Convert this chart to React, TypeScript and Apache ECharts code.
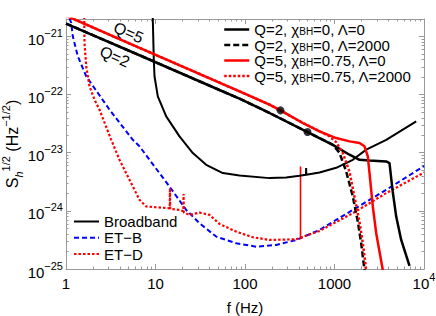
import React, { useEffect, useRef } from 'react';
import * as echarts from 'echarts';

// ---------- axes ----------
const X_MIN = 1;
const X_MAX = 10000;
const Y_MIN = 1e-25;
const Y_MAX = 2e-21;
const X_MAJOR = [1, 10, 100, 1000, 10000];
const Y_MAJOR = [1e-25, 1e-24, 1e-23, 1e-22, 1e-21];
// ECharts rounds log-axis extents to 20 decimals, so the y values are drawn in units of 1e-25
const Y_UNIT = 1e-25;

// ---------- series: [f (Hz), S_h^1/2] ----------
const q2Lambda0 = [
  [1, 1.67e-21], [6.625, 4.76e-22], [51.89, 1.2e-22], [86.81, 8.53e-23],
  [187.8, 4.83e-23], [499.1, 2.27e-23], [957.2, 1.37e-23], [1471, 9.25e-24],
  [1902, 7.57e-24], [2461, 7.36e-24], [3782, 7.08e-24], [4117, 6.64e-24],
  [4446, 2.3e-24], [4892, 7.98e-25], [5563, 3.16e-25], [6887, 1.13e-25],
];
const q2Lambda2000 = [
  [1, 1.67e-21], [6.625, 4.76e-22], [51.89, 1.2e-22], [86.81, 8.53e-23],
  [187.8, 4.83e-23], [499.1, 2.27e-23], [957.2, 1.37e-23], [1137, 1.0e-23],
  [1351, 4.76e-24], [1602, 1.77e-24], [1821, 6.54e-25], [1988, 2.77e-25],
  [2109, 1.32e-25], [2164, 9.6e-26],
];
const q5Lambda0 = [
  [1, 2.28e-21], [6.625, 6.38e-22], [86.81, 1.14e-22], [187.8, 6.73e-23],
  [249.2, 5.36e-23], [442.4, 3.25e-23], [679.8, 2.33e-23], [1045, 1.79e-23],
  [1471, 1.57e-23], [1902, 1.47e-23], [2164, 1.29e-23], [2356, 8.63e-24],
  [2461, 4.47e-24], [2679, 1.19e-24], [2924, 4.13e-25], [3465, 9.6e-26],
];
const q5Lambda2000 = [
  [1, 2.28e-21], [6.625, 6.38e-22], [86.81, 1.14e-22], [187.8, 6.73e-23],
  [249.2, 5.36e-23], [442.4, 3.25e-23], [624.5, 2.5e-23], [879, 1.92e-23],
  [1045, 1.52e-23], [1238, 9.89e-24], [1471, 4.7e-24], [1673, 1.74e-24],
  [1902, 6.45e-25], [2072, 2.81e-25], [2203, 1.32e-25], [2249, 9.6e-26],
];
const broadband = [
  [9.3, 2.2e-21], [9.33, 1.96e-21], [9.572, 4.01e-22], [9.746, 2.07e-22],
  [10.61, 9.35e-23], [13.17, 4.23e-23], [18.54, 1.91e-23], [26.12, 9.89e-24],
  [36.86, 6.21e-24], [56.49, 4.47e-24], [86.81, 4.06e-24], [187.8, 3.66e-24],
  [288.6, 3.75e-24], [406.3, 4.01e-24], [480, 4.17e-24], [482, 5.44e-24],
  [484, 4.19e-24], [679.8, 4.57e-24], [1045, 5.51e-24], [1602, 7.57e-24],
  [2261, 1.13e-23], [3782, 1.67e-23], [8182, 3.47e-23],
];
const etB = [
  [1.094, 2.04e-21], [1.143, 1.72e-21], [1.191, 1.01e-21], [1.355, 4.57e-22],
  [1.682, 2.07e-22], [2.266, 1.07e-22], [3.062, 5.51e-23], [5.578, 1.67e-23],
  [6.625, 1.29e-23], [8.57, 7.57e-24], [14.34, 2.62e-24], [22.03, 1.04e-24],
  [31.01, 6.14e-25], [47.67, 3.61e-25], [79.74, 2.77e-25], [133.4, 2.42e-25],
  [223.2, 2.59e-25], [373.4, 3.16e-25], [679.8, 4.7e-25], [1602, 1.04e-24],
  [3782, 2.3e-24], [10000, 5.9e-24],
];
const etD = [
  [1.6, 2.2e-21], [1.609, 7.78e-22], [1.682, 3.08e-22], [1.83, 1.39e-22],
  [2.082, 8.2e-23], [2.367, 5.51e-23], [3.199, 1.67e-23], [3.961, 7.57e-24],
  [5.123, 3.42e-24], [6.625, 1.55e-24], [7.873, 1.19e-24], [14.4, 1.11e-24],
  [14.5, 2.45e-24], [14.6, 1.08e-24], [18.54, 1.04e-24], [20.5, 9.9e-25],
  [20.6, 1.95e-24], [20.7, 9.4e-25], [23.98, 8.53e-25], [31.01, 9.35e-25],
  [40.12, 8.53e-25], [51.89, 5.97e-25], [79.74, 4.4e-25], [122.3, 3.52e-25],
  [187.8, 3.16e-25], [373.4, 3.25e-25], [679.8, 4.52e-25], [1602, 9.12e-25],
  [3782, 2.02e-24], [10000, 4.57e-24],
];
const redMarker = [[417, 3.25e-25], [417, 5.81e-24]];
const dots = [[249.2, 5.36e-23], [499.1, 2.27e-23]];
const qLabels = [
  { text: 'Q=5', at: [5.0, 1.17e-21] },
  { text: 'Q=2', at: [3.5, 4.5e-22] },
];

const NAME_Q2L0 = 'Q=2, χBH=0, Λ=0';
const NAME_Q2L2000 = 'Q=2, χBH=0, Λ=2000';
const NAME_Q5L0 = 'Q=5, χBH=0.75, Λ=0';
const NAME_Q5L2000 = 'Q=5, χBH=0.75, Λ=2000';
const NAME_BB = 'Broadband';
const NAME_ETB = 'ET−B';
const NAME_ETD = 'ET−D';

const FONT = '"Liberation Sans", Arial, Helvetica, sans-serif';
const FRAME = '#999';
const RED = '#ff0000';
const BLUE = '#0000ff';

const toUnits = (pts: number[][]) => pts.map((p) => [p[0], p[1] / Y_UNIT]);

function minorOf(majors: number[]): number[] {
  const out: number[] = [];
  for (const m of majors) for (let k = 2; k <= 9; k++) out.push(m * k);
  return out;
}

const labelRich = {
  b: { fontSize: 15, lineHeight: 24, color: '#000', fontFamily: FONT },
  s: { fontSize: 11, verticalAlign: 'top', color: '#000', fontFamily: FONT },
};

function yLabel(v: number): string {
  const e = Math.round(Math.log10(v * Y_UNIT));
  return '{b|10}{s|' + String(e).replace('-', '\u2212') + '}';
}
function xLabel(v: number): string {
  const e = Math.round(Math.log10(v));
  if (e < 4) return '{b|' + String(Math.round(Math.pow(10, e))) + '}';
  return '{b|10}{s|' + e + '}';
}

function logAxis(extra: any, isX: boolean) {
  return {
    type: 'log',
    logBase: 10,
    min: isX ? X_MIN : Y_MIN / Y_UNIT,
    max: isX ? X_MAX : Y_MAX / Y_UNIT,
    splitLine: { show: false },
    axisLine: { show: false, onZero: false },
    axisLabel: { show: false },
    ...extra,
  };
}

function buildOption() {
  const xMinor = minorOf(X_MAJOR);
  const yMajorU = Y_MAJOR.map((v) => Math.round(v / Y_UNIT));
  const yMinorU = minorOf(yMajorU);
  const tickMajor = (vals: number[]) => ({
    show: true, inside: true, length: 5, customValues: vals, lineStyle: { color: FRAME, width: 1 },
  });
  const tickMinor = (vals: number[]) => ({
    show: true, inside: true, length: 2.5, customValues: vals, lineStyle: { color: FRAME, width: 1 },
  });
  const frameLine = { show: true, onZero: false, lineStyle: { color: FRAME, width: 1 } };

  const legendText = {
    fontSize: 15,
    lineHeight: 14,
    color: '#000',
    fontFamily: FONT,
    rich: {
      sub: { fontSize: 10, lineHeight: 14, verticalAlign: 'bottom', color: '#000', fontFamily: FONT },
    },
  };

  const line = (name: string, data: number[][], color: string, width: number, type: any, z = 2) => ({
    type: 'line', name, data: toUnits(data), symbol: 'none', showSymbol: false, smooth: false, z,
    lineStyle: { color, width, type }, itemStyle: { color }, clip: true,
  });

  return {
    animation: false,
    textStyle: { fontFamily: FONT },
    grid: { left: 66, right: 12, top: 19, bottom: 47, outerBoundsMode: 'none', containLabel: false },
    xAxis: [
      logAxis({
        position: 'bottom',
        axisLine: frameLine,
        axisTick: tickMajor(X_MAJOR),
        axisLabel: { show: true, customValues: X_MAJOR, formatter: xLabel, margin: 2, rich: labelRich, color: '#000' },
        name: 'f (Hz)',
        nameLocation: 'middle',
        nameGap: 31,
        nameMoveOverlap: false,
        nameTextStyle: { fontSize: 15, lineHeight: 15, color: '#000', fontFamily: FONT },
      }, true),
      logAxis({ position: 'bottom', axisTick: tickMinor(xMinor) }, true),
      logAxis({ position: 'top', axisLine: frameLine, axisTick: tickMajor(X_MAJOR) }, true),
      logAxis({ position: 'top', axisTick: tickMinor(xMinor) }, true),
    ],
    yAxis: [
      logAxis({
        position: 'left',
        axisLine: frameLine,
        axisTick: tickMajor(yMajorU),
        axisLabel: { show: true, customValues: yMajorU, formatter: yLabel, margin: 3, rich: labelRich, color: '#000', padding: [6, 0, 0, 0] },
        name: '{n|S}{sub|h}{sup|1/2}{n| (Hz}{sup|\u22121/2}{n|)}',
        nameLocation: 'middle',
        nameGap: 42,
        nameMoveOverlap: false,
        nameTextStyle: {
          color: '#000',
          rich: {
            n: { fontSize: 16, lineHeight: 24, color: '#000', fontFamily: FONT },
            sub: { fontSize: 11, fontStyle: 'italic', verticalAlign: 'bottom', color: '#000', fontFamily: FONT },
            sup: { fontSize: 11, verticalAlign: 'top', color: '#000', fontFamily: FONT },
          },
        },
      }, false),
      logAxis({ position: 'left', axisTick: tickMinor(yMinorU) }, false),
      logAxis({ position: 'right', axisLine: frameLine, axisTick: tickMajor(yMajorU) }, false),
      logAxis({ position: 'right', axisTick: tickMinor(yMinorU) }, false),
    ],
    legend: [
      {
        data: [NAME_Q2L0, NAME_Q2L2000, NAME_Q5L0, NAME_Q5L2000],
        orient: 'vertical', left: 223, top: 22, padding: 0,
        itemWidth: 25, itemHeight: 14, itemGap: 0.5,
        selectedMode: false,
        itemStyle: { opacity: 0 },
        lineStyle: { width: 2.5 },
        textStyle: legendText,
        formatter: (n: string) => n.replace('χBH', 'χ{sub|BH}'),
      },
      {
        data: [NAME_BB, NAME_ETB, NAME_ETD],
        orient: 'vertical', left: 73, top: 214, padding: 0,
        itemWidth: 25, itemHeight: 14, itemGap: 1.3,
        selectedMode: false,
        itemStyle: { opacity: 0 },
        lineStyle: { width: 2 },
        textStyle: legendText,
      },
    ],
    series: [
      line(NAME_ETB, etB, BLUE, 2, [5, 3]),
      line(NAME_ETD, etD, RED, 2.2, [2.5, 2]),
      line('marker', redMarker, RED, 1.6, 'solid'),
      line(NAME_BB, broadband, '#000', 2, 'solid'),
      line(NAME_Q2L0, q2Lambda0, '#000', 2.5, 'solid', 3),
      line(NAME_Q2L2000, q2Lambda2000, '#000', 2.5, [6, 3], 3),
      line(NAME_Q5L0, q5Lambda0, RED, 2.5, 'solid', 4),
      line(NAME_Q5L2000, q5Lambda2000, RED, 2.5, [2.5, 2], 4),
      {
        type: 'scatter', name: 'points', data: toUnits(dots), symbol: 'circle', symbolSize: 8, z: 5,
        itemStyle: { color: '#000' },
      },
    ],
  };
}

export default function App() {
  const ref = useRef<HTMLDivElement>(null);
  useEffect(() => {
    document.body.style.margin = '0';
    const chart = echarts.init(ref.current as HTMLDivElement, null, { renderer: 'svg' });
    chart.setOption(buildOption() as any);
    const graphics = qLabels.map((q) => {
      const p = chart.convertToPixel({ xAxisIndex: 0, yAxisIndex: 0 }, [q.at[0], q.at[1] / Y_UNIT]) as number[];
      return {
        type: 'text', x: p[0], y: p[1], rotation: -0.41, z: 10,
        style: { text: q.text, fontSize: 16, fontFamily: FONT, fill: '#000', align: 'center', verticalAlign: 'middle' },
      };
    });
    chart.setOption({ graphic: graphics } as any);
    return () => chart.dispose();
  }, []);
  return <div ref={ref} style={{ width: 436, height: 316 }} />;
}
